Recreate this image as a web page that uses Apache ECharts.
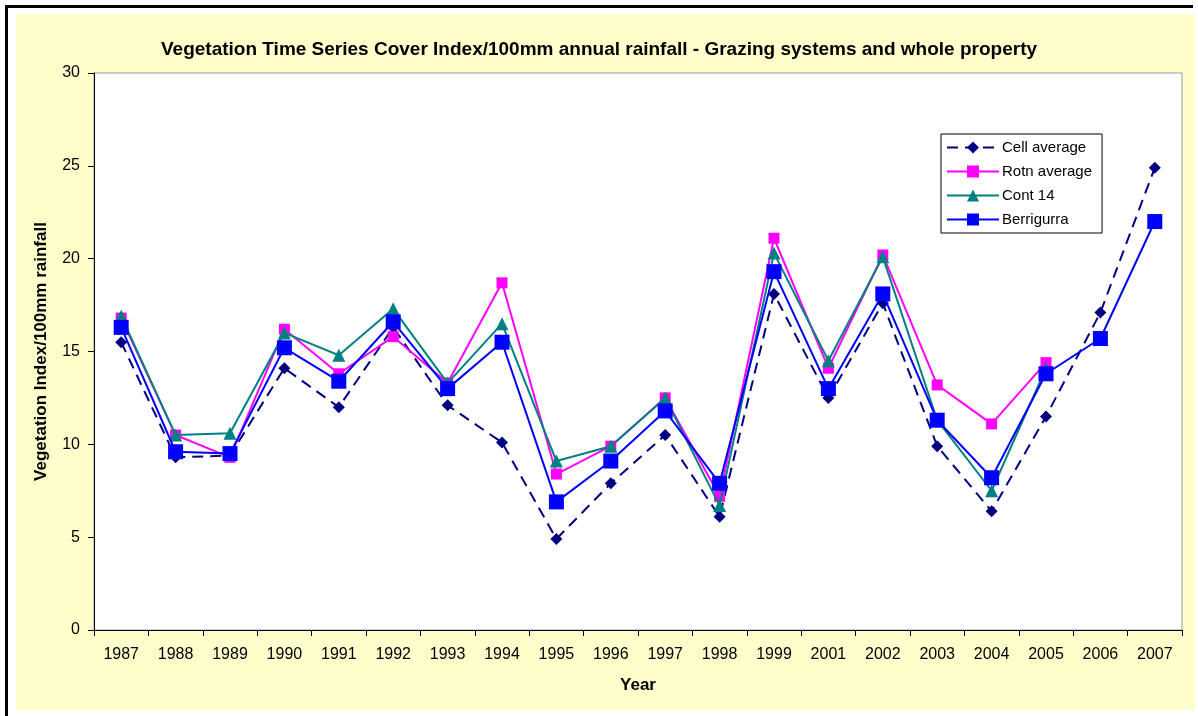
<!DOCTYPE html>
<html>
<head>
<meta charset="utf-8">
<script src="https://cdn.jsdelivr.net/npm/echarts@6/dist/echarts.min.js"></script>
</head>
<body style="margin:0">
<div id="container" style="width:1198px;height:716px"></div>
<script type="text/javascript">
var years = ['1987','1988','1989','1990','1991','1992','1993','1994','1995','1996',
             '1997','1998','1999','2001','2002','2003','2004','2005','2006','2007'];
var cellAverage = [15.5, 9.3, 9.4, 14.1, 12.0, 16.3, 12.1, 10.1, 4.9, 7.9,
                   10.5, 6.1, 18.1, 12.5, 17.6, 9.9, 6.4, 11.5, 17.1, 24.9];
var rotnAverage = [16.8, 10.5, 9.3, 16.2, 13.8, 15.8, 13.3, 18.7, 8.4, 9.9,
                   12.5, 7.2, 21.1, 14.1, 20.2, 13.2, 11.1, 14.4, null, null];
var cont14 = [16.9, 10.5, 10.6, 16.0, 14.8, 17.3, 13.3, 16.5, 9.1, 9.9,
              12.5, 6.7, 20.3, 14.5, 20.1, 11.3, 7.5, 14.1, null, null];
var berrigurra = [16.3, 9.6, 9.5, 15.2, 13.4, 16.6, 13.0, 15.5, 6.9, 9.1,
                  11.8, 7.9, 19.3, 13.0, 18.1, 11.3, 8.2, 13.8, 15.7, 22.0];
var yTicks = [0, 5, 10, 15, 20, 25, 30];

var myChart = echarts.init(document.getElementById('container'));
var font = 'Arial, "Liberation Sans", sans-serif';

var option = {
    backgroundColor: '#ffffff',
    animation: false,
    graphic: [
        {type: 'rect', shape: {x: 16, y: 14, width: 1179, height: 696}, style: {fill: '#FFFFCC'}, z: -10},
        {type: 'rect', shape: {x: 5, y: 5, width: 3, height: 711}, style: {fill: '#000000'}, z: -10},
        {type: 'rect', shape: {x: 5, y: 5, width: 1188, height: 3}, style: {fill: '#000000'}, z: -10}
    ],
    title: {
        text: 'Vegetation Time Series Cover Index/100mm annual rainfall - Grazing systems and whole property',
        left: 'center',
        top: 35,
        textStyle: {fontFamily: font, fontSize: 19, fontWeight: 'bold', color: '#000'}
    },
    legend: {
        orient: 'vertical',
        left: 941,
        top: 134,
        width: 160,
        padding: [6, 10, 6, 5],
        itemGap: 9,
        itemWidth: 52,
        itemHeight: 15,
        backgroundColor: '#ffffff',
        borderColor: '#000000',
        borderWidth: 1,
        borderRadius: 0,
        textStyle: {fontFamily: font, fontSize: 15, color: '#000', padding: [0, 0, 0, -2]},
        data: ['Cell average', 'Rotn average', 'Cont 14', 'Berrigurra']
    },
    grid: {
        left: 94, right: 16, top: 73, bottom: 86,
        show: true,
        backgroundColor: '#ffffff',
        borderColor: '#999999',
        borderWidth: 1
    },
    xAxis: {
        type: 'category',
        data: years,
        boundaryGap: true,
        name: 'Year',
        nameLocation: 'middle',
        nameGap: 47,
        nameTextStyle: {fontFamily: font, fontSize: 17, fontWeight: 'bold', color: '#000'},
        axisLine: {lineStyle: {color: '#000', width: 1}},
        axisTick: {show: true, length: 6, alignWithLabel: false, lineStyle: {color: '#000'}},
        axisLabel: {fontFamily: font, fontSize: 16, color: '#000', margin: 17, interval: 0},
        splitLine: {show: false}
    },
    yAxis: {
        type: 'value',
        min: yTicks[0],
        max: yTicks[yTicks.length - 1],
        interval: 5,
        name: 'Vegetation Index/100mm rainfall',
        nameLocation: 'middle',
        nameGap: 44,
        nameTextStyle: {fontFamily: font, fontSize: 17, fontWeight: 'bold', color: '#000'},
        axisLine: {show: true, lineStyle: {color: '#000', width: 1}},
        axisTick: {show: true, length: 6, lineStyle: {color: '#000'}},
        axisLabel: {fontFamily: font, fontSize: 16, color: '#000', margin: 14},
        splitLine: {show: false}
    },
    series: [
        {
            name: 'Cell average', type: 'line', data: cellAverage,
            symbol: 'diamond', symbolSize: 12,
            itemStyle: {color: '#000080'},
            lineStyle: {color: '#000080', width: 2, type: [11, 7]},
            z: 2
        },
        {
            name: 'Rotn average', type: 'line', data: rotnAverage,
            symbol: 'rect', symbolSize: 11,
            itemStyle: {color: '#FF00FF'},
            lineStyle: {color: '#FF00FF', width: 2},
            z: 3
        },
        {
            name: 'Cont 14', type: 'line', data: cont14,
            symbol: 'triangle', symbolSize: 13,
            itemStyle: {color: '#008080'},
            lineStyle: {color: '#008080', width: 2},
            z: 4
        },
        {
            name: 'Berrigurra', type: 'line', data: berrigurra,
            symbol: 'rect', symbolSize: 15,
            itemStyle: {color: '#0000FF'},
            lineStyle: {color: '#0000FF', width: 2},
            z: 5
        }
    ]
};
myChart.setOption(option);
</script>
</body>
</html>
